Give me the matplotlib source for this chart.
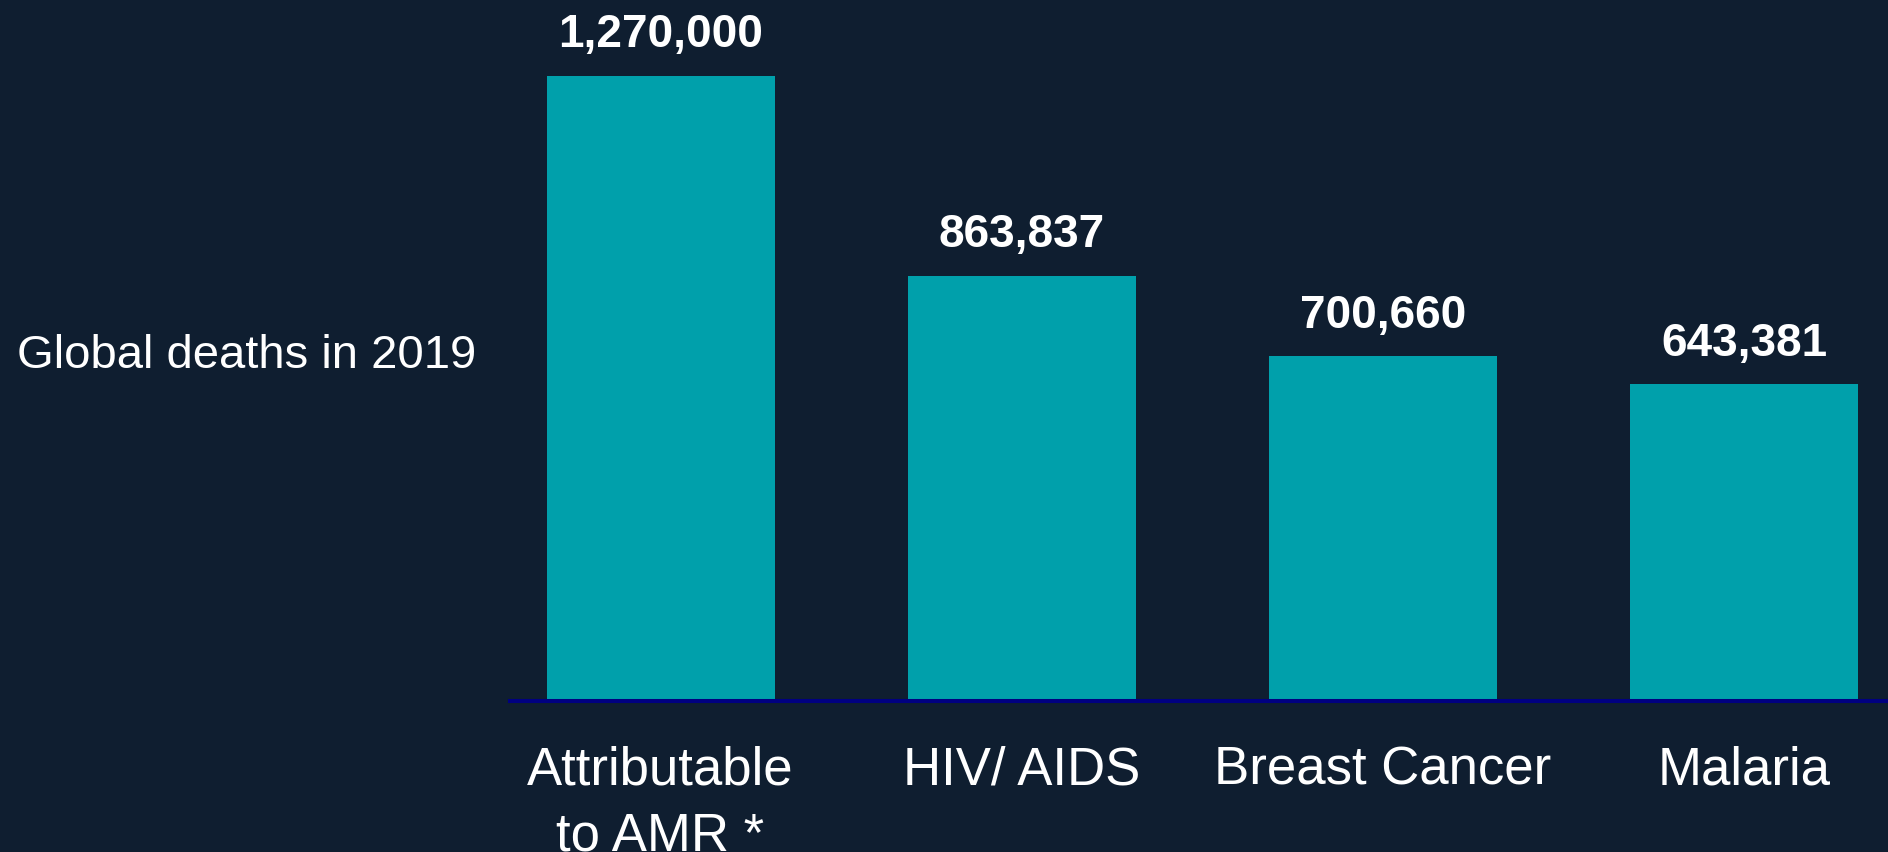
import matplotlib
matplotlib.use("Agg")
import matplotlib.pyplot as plt

categories = ["Attributable\nto AMR *", "HIV/ AIDS", "Breast Cancer", "Malaria"]
deaths = [1270000, 863837, 700660, 643381]
value_labels = ["1,270,000", "863,837", "700,660", "643,381"]
ylabel_text = "Global deaths in 2019"

BG = "#0f1e30"
BAR = "#00a0ab"
AXIS = "#000080"
FONT = ["Liberation Sans", "DejaVu Sans"]

W, H = 1888, 852
fig = plt.figure(figsize=(W / 100, H / 100), dpi=100, facecolor=BG)
base_px = 701
ax = fig.add_axes([510 / W, (H - base_px) / H, (W - 510) / W, base_px / H])
ax.set_facecolor(BG)

x = list(range(len(categories)))
ax.bar(x, deaths, width=0.631, color=BAR, zorder=2)
ax.set_xlim(-0.4166, 3.3975)
ax.set_ylim(0, 1424000)

for s in ["top", "right", "left"]:
    ax.spines[s].set_visible(False)
ax.spines["bottom"].set_color(AXIS)
ax.spines["bottom"].set_linewidth(2.9)
ax.spines["bottom"].set_zorder(3)
ax.set_xticks([])
ax.set_yticks([])

for xi, v, lab in zip(x, deaths, value_labels):
    ax.annotate(lab, (xi, v), xytext=(0, 20.5), textcoords="offset points",
                ha="center", va="baseline", color="white", fontsize=33,
                fontweight="bold", family=FONT)

for xi, cat in zip(x, categories):
    ax.annotate(cat, (xi, 0), xytext=(0, -32), textcoords="offset points",
                ha="center", va="top", color="white", fontsize=38,
                family=FONT, linespacing=1.4, annotation_clip=False)

fig.text(17 / W, (H - 368) / H, ylabel_text, ha="left", va="baseline",
         color="white", fontsize=34, family=FONT)

fig.savefig("out.png", dpi=100, facecolor=BG)
